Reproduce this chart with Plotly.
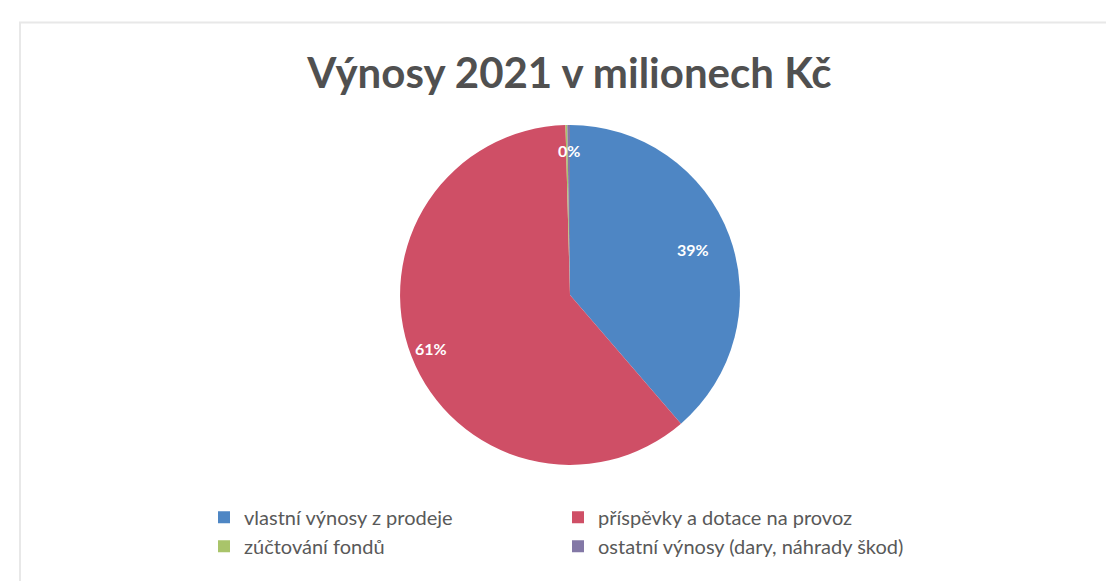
import math
import plotly.graph_objects as go

# vynosy 2021 (mil. Kc) - values
labels = ["vlastní výnosy z prodeje", "příspěvky a dotace na provoz",
          "zúčtování fondů", "ostatní výnosy (dary, náhrady škod)"]
values = [45.6, 71.8, 0.2, 0.3]
colors = ["#4E86C4", "#CF4F66", "#A9C46A", "#8378A6"]
shown = [True, True, False, True]
label_radius = [0.77, 0.88, 0.92, 0.92]  # where excel put the % labels

W, H = 1114, 581
ML, MR = 150, 150          # side margins so the legend breaks into 2 columns
PW = W - ML - MR


def px2x(px):
    # pixel -> paper x
    return (px - ML) / PW


pie_cx = px2x(562)
dom_x = [pie_cx - 0.4, pie_cx + 0.4]
dom_y = [0.2136, 0.7986]

fig = go.Figure()
fig.add_trace(go.Pie(
    labels=labels, values=values,
    marker=dict(colors=colors, line=dict(width=0)),
    sort=False, direction="clockwise", rotation=0,
    textinfo="none",
    domain=dict(x=dom_x, y=dom_y),
    showlegend=True, hoverinfo="label+value+percent",
))

# percentage labels, placed from the slice angles
total = sum(values)
cy = (dom_y[0] + dom_y[1]) / 2
R = (dom_y[1] - dom_y[0]) * H / 2
start = 0
annotations = []
for v, s, rr in zip(values, shown, label_radius):
    mid = (start + v / 2) / total * 2 * math.pi
    start += v
    if not s:
        continue
    annotations.append(dict(
        x=pie_cx + rr * R * math.sin(mid) / PW, y=cy + rr * R * math.cos(mid) / H,
        xref="paper", yref="paper", showarrow=False,
        text="<b>%d%%</b>" % round(v / total * 100),
        font=dict(family="Lato", size=16, color="white")))

fig.update_layout(
    width=W, height=H,
    paper_bgcolor="white", plot_bgcolor="white",
    margin=dict(l=ML, r=MR, t=0, b=0, autoexpand=False),
    title=dict(text="<b>Výnosy 2021 v milionech Kč</b>", x=0.504, xanchor="center",
               y=0.887, yanchor="middle",
               font=dict(family="Lato", size=42, color="#505050")),
    legend=dict(orientation="h", x=px2x(196), xanchor="left", y=0.157, yanchor="top",
                entrywidth=309, entrywidthmode="pixels",
                font=dict(family="Lato", size=20, color="#595959"),
                itemwidth=30, traceorder="normal"),
    annotations=annotations,
    shapes=[dict(type="rect", xref="paper", yref="paper", x0=px2x(12), x1=px2x(1111),
                 y0=-0.01, y1=0.975, line=dict(color="#E8E8E8", width=2))],
)

fig.write_html("out.html")
